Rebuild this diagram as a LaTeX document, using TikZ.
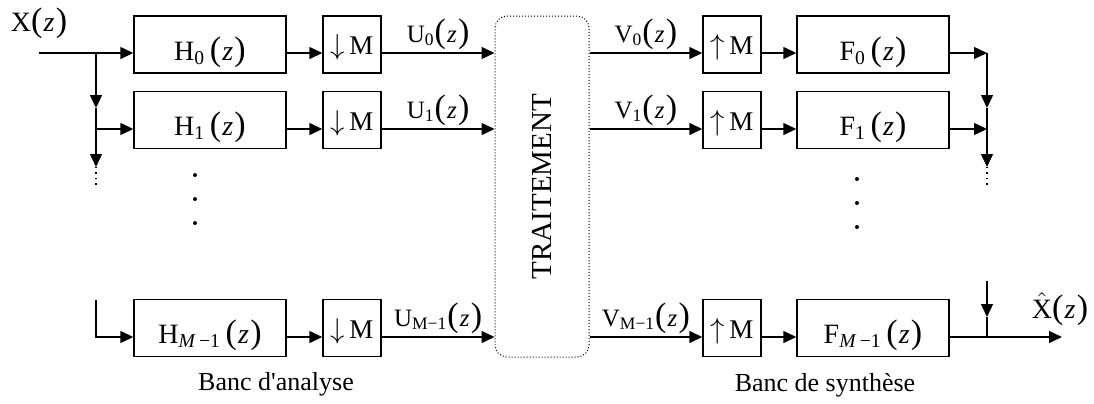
\documentclass[tikz,border=0pt]{standalone}
\usepackage{fontspec}
\setmainfont{Liberation Serif}
\usetikzlibrary{arrows.meta}
\newcommand{\pz}{{\fontsize{17}{17}\selectfont(}\kern0.6pt\textit{z}\kern0.6pt{\fontsize{17}{17}\selectfont)}}
\newcommand{\xhat}{$\hat{\mbox{X}}$}

\begin{document}
\begin{tikzpicture}[x=0.5pt,y=-0.5pt,>={Triangle[length=6.5pt,width=6pt]},line width=0.7pt,
  filt/.style={draw,minimum width=76pt,minimum height=28.5pt,inner sep=0pt,
    text height=15.5pt,text depth=0pt,font=\fontsize{14}{15}\selectfont},
  rate/.style={draw,minimum width=29pt,minimum height=28.5pt,inner sep=0pt,
    text height=10pt,text depth=0pt,font=\fontsize{13.5}{14}\selectfont},
  trait/.style={draw,line width=0.5pt,densely dotted,rounded corners=6pt,
    minimum width=47pt,minimum height=170.5pt,inner sep=0pt,font=\fontsize{14.5}{15}\selectfont},
  sig/.style={above,inner sep=1.5pt,font=\fontsize{12.5}{13}\selectfont},
  lbl/.style={inner sep=0pt,font=\fontsize{13}{14}\selectfont}]

  \useasboundingbox (0,0) rectangle (1094,403);

  % rows
  \coordinate (r0) at (0,53);
  \coordinate (r1) at (0,129);
  \coordinate (r2) at (0,337);

  % analysis bank
  \node[filt] (H0) at (210,44.5) {H\textsubscript{0}\,\pz};
  \node[filt] (H1) at (210,120) {H\textsubscript{1}\,\pz};
  \node[filt] (H2) at (210,328) {H\textsubscript{\textit{M}\,−1}\,\pz};
  \node[rate] (D0) at (352,44.5) {$\downarrow$\,M};
  \node[rate] (D1) at (352,120) {$\downarrow$\,M};
  \node[rate] (D2) at (352,328) {$\downarrow$\,M};

  \node[trait] (T) at (542,186.5) {\rotatebox{90}{TRAITEMENT}};

  % synthesis bank
  \node[rate] (E0) at (732,44.5) {$\uparrow$\,M};
  \node[rate] (E1) at (732,120) {$\uparrow$\,M};
  \node[rate] (E2) at (732,328) {$\uparrow$\,M};
  \node[filt] (F0) at (873,44.5) {F\textsubscript{0}\,\pz};
  \node[filt] (F1) at (873,120) {F\textsubscript{1}\,\pz};
  \node[filt] (F2) at (873,328) {F\textsubscript{\textit{M}\,−1}\,\pz};

  \node[lbl,font=\fontsize{14}{15}\selectfont] (xin) at (39,23) {X\pz};
  \node[lbl,font=\fontsize{14}{15}\selectfont] (xout) at (1060,309) {\xhat\pz};
  \node[lbl] (la) at (276,384) {Banc d\textquotesingle analyse};
  \node[lbl] (ls) at (825,385) {Banc de synthèse};

  % input split
  \coordinate (in) at (39,53);
  \coordinate (b0) at (96,53);
  \coordinate (a0) at (96,108);
  \coordinate (b1) at (96,129);
  \coordinate (a1) at (96,167);
  \coordinate (b3) at (96,187);
  \coordinate (bl) at (96,300);
  \draw[->] (in) -- (H0.west |- r0);
  \draw[->] (b0) -- (a0);
  \draw[->] (a0) -- (b1) -- (a1);
  \draw[dotted] (a1) -- (b3);
  \draw[->] (b1) -- (H1.west |- r1);
  \draw[->] (bl) |- (H2.west |- r2);

  % filters to decimators to processing
  \draw[->] (H0.east |- r0) -- (D0.west |- r0);
  \draw[->] (H1.east |- r1) -- (D1.west |- r1);
  \draw[->] (H2.east |- r2) -- (D2.west |- r2);
  \draw[->] (D0.east |- r0) -- node[sig] {U\textsubscript{0}\pz} (T.west |- r0);
  \draw[->] (D1.east |- r1) -- node[sig] {U\textsubscript{1}\pz} (T.west |- r1);
  \draw[->] (D2.east |- r2) -- node[sig] {U\textsubscript{M−1}\pz} (T.west |- r2);

  % processing to expanders to filters
  \draw[->] (T.east |- r0) -- node[sig] {V\textsubscript{0}\pz} (E0.west |- r0);
  \draw[->] (T.east |- r1) -- node[sig] {V\textsubscript{1}\pz} (E1.west |- r1);
  \draw[->] (T.east |- r2) -- node[sig] {V\textsubscript{M−1}\pz} (E2.west |- r2);
  \draw[->] (E0.east |- r0) -- (F0.west |- r0);
  \draw[->] (E1.east |- r1) -- (F1.west |- r1);
  \draw[->] (E2.east |- r2) -- (F2.west |- r2);

  % output sum
  \coordinate (s0) at (987,53);
  \coordinate (c0) at (987,108);
  \coordinate (s1) at (987,129);
  \coordinate (c1) at (987,167);
  \coordinate (s3) at (987,187);
  \coordinate (sl) at (987,281);
  \coordinate (c2) at (987,317);
  \coordinate (s2) at (987,337);
  \coordinate (out) at (1062,337);
  \draw[->] (F0.east |- r0) -- (s0);
  \draw[->] (s0) -- (c0);
  \draw[->] (c0) -- (s1) -- (c1);
  \draw[dotted] (c1) -- (s3);
  \draw[->] (F1.east |- r1) -- (s1);
  \draw[->] (sl) -- (c2);
  \draw (c2) -- (s2);
  \draw[->] (F2.east |- r2) -- (out);

  % dots
  \foreach \y in {175,199,223} \fill (195,\y) circle (1pt);
  \foreach \y in {179,203,227} \fill (857,\y) circle (1pt);
\end{tikzpicture}
\end{document}
